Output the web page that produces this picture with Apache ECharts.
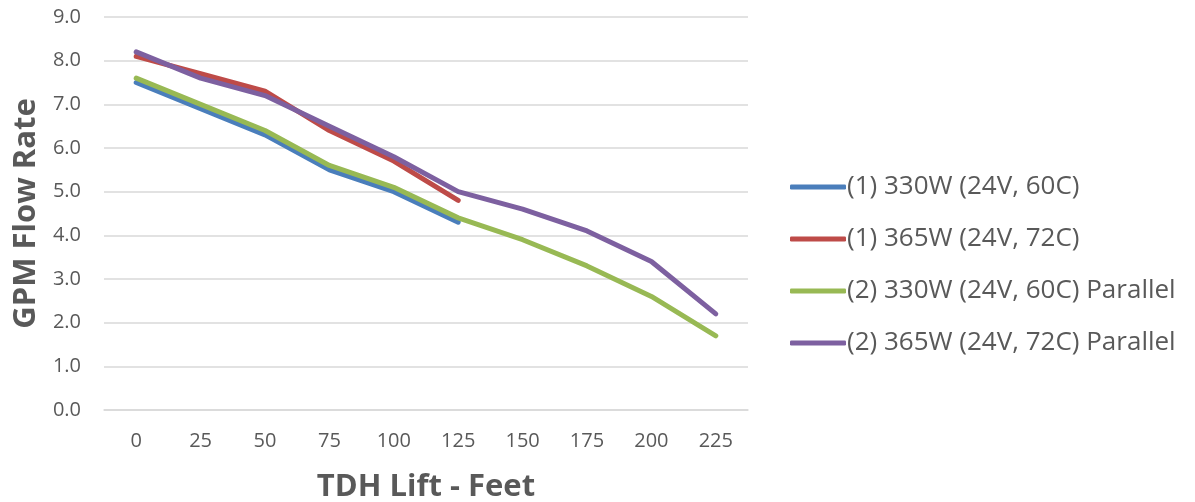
<!DOCTYPE html>
<html><head><meta charset="utf-8">
<script src="https://cdn.jsdelivr.net/npm/echarts@6/dist/echarts.min.js"></script>
<style>html,body{margin:0;padding:0;background:#fff}#c{width:1195px;height:502px}</style>
</head><body><div id="c"></div>
<script>
const categories = ['0','25','50','75','100','125','150','175','200','225'];
const s330 = [7.5, 6.9, 6.3, 5.5, 5.0, 4.3];
const s365 = [8.1, 7.7, 7.3, 6.4, 5.7, 4.8];
const s330p = [7.6, 7.0, 6.4, 5.6, 5.1, 4.4, 3.9, 3.3, 2.6, 1.7];
const s365p = [8.2, 7.6, 7.2, 6.5, 5.8, 5.0, 4.6, 4.1, 3.4, 2.2];
const names = ['(1) 330W (24V, 60C)','(1) 365W (24V, 72C)','(2) 330W (24V, 60C) Parallel','(2) 365W (24V, 72C) Parallel'];
const colors = ['#4a7ebb','#be4b48','#98b954','#7d60a0'];
const FONT = 'Open Sans';
const chart = echarts.init(document.getElementById('c'), null, {renderer:'canvas'});
function mk(i, data){
  return {name:names[i], type:'line', data:data, symbol:'none', smooth:false,
    lineStyle:{width:5, color:colors[i], cap:'round', join:'round'}, itemStyle:{color:colors[i]}, z:2+i};
}
chart.setOption({
  animation:false,
  textStyle:{fontFamily:FONT},
  grid:{left:104, right:447, top:17, bottom:92, outerBoundsMode:'none', containLabel:false},
  legend:{orient:'vertical', left:785, top:169, itemGap:26, itemWidth:56, itemHeight:5,
    icon:'roundRect',
    textStyle:{fontFamily:FONT, fontSize:26, color:'#595959', padding:[0,0,0,-4]},
    data:names},
  xAxis:{type:'category', data:categories, boundaryGap:true,
    axisLine:{show:true, lineStyle:{color:'#d9d9d9', width:1.5}},
    axisTick:{show:false},
    axisLabel:{color:'#595959', fontSize:20, margin:21, fontFamily:FONT},
    name:'TDH Lift - Feet', nameLocation:'middle', nameGap:62,
    nameTextStyle:{fontSize:31, fontWeight:'bold', color:'#595959', fontFamily:FONT}},
  yAxis:{type:'value', min:0, max:9, interval:1,
    axisLine:{show:false}, axisTick:{show:false},
    splitLine:{lineStyle:{color:'#d9d9d9', width:1.5}},
    axisLabel:{color:'#595959', fontSize:20, margin:23, fontFamily:FONT, formatter:v=>v.toFixed(1)},
    name:'GPM Flow Rate', nameLocation:'middle', nameGap:62,
    nameTextStyle:{fontSize:31, fontWeight:'bold', color:'#595959', fontFamily:FONT}},
  series:[mk(0,s330), mk(1,s365), mk(2,s330p), mk(3,s365p)]
});
</script></body></html>
